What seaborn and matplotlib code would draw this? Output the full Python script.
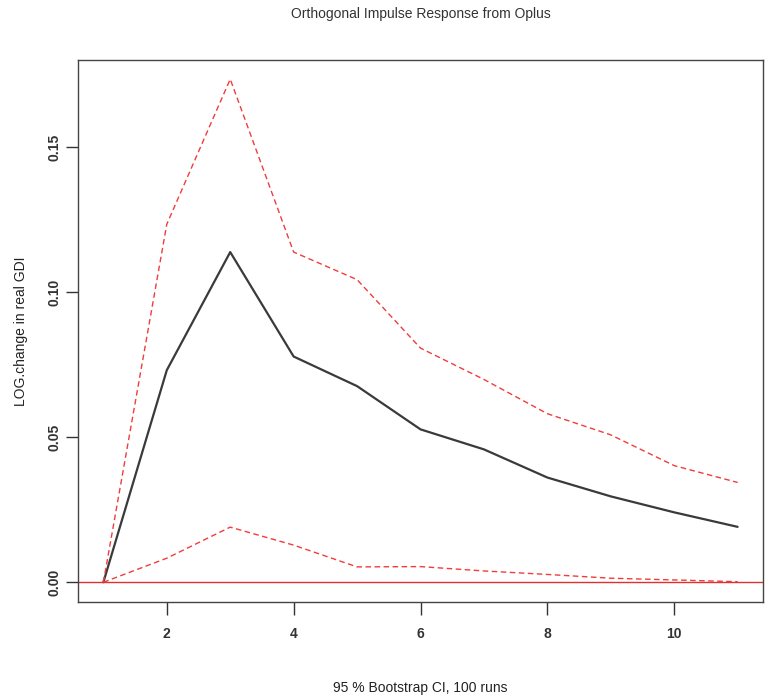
import numpy as np
import pandas as pd
import matplotlib
matplotlib.use("Agg")
import matplotlib.pyplot as plt
import seaborn as sns

# impulse response of real GDI to an Oplus shock, with 95% bootstrap bands
horizon = [1, 2, 3, 4, 5, 6, 7, 8, 9, 10, 11]
irf = [0.0, 0.0731, 0.1138, 0.0778, 0.0676, 0.0527, 0.0458, 0.0361, 0.0296, 0.0241, 0.0191]
upper = [0.0, 0.1234, 0.1734, 0.1138, 0.1043, 0.0807, 0.0699, 0.0581, 0.0508, 0.0402, 0.0344]
lower = [0.0, 0.0083, 0.0190, 0.0128, 0.0053, 0.0054, 0.0039, 0.0027, 0.0014, 0.0008, 0.0002]

df = pd.DataFrame({"horizon": horizon, "irf": irf, "upper": upper, "lower": lower})

sns.set_style("ticks")
plt.rcParams['font.family'] = ['Liberation Sans', 'DejaVu Sans']

fig = plt.figure(figsize=(7.65, 6.98), dpi=100)
ax = fig.add_axes([78 / 765, 96 / 698, 685 / 765, 542 / 698])

sns.lineplot(data=df, x="horizon", y="irf", color="#3a3a3a", linewidth=1.6, ax=ax)
sns.lineplot(data=df, x="horizon", y="upper", color="#f03c3c", linewidth=1.0,
             linestyle=(0, (4, 2.5)), ax=ax)
sns.lineplot(data=df, x="horizon", y="lower", color="#f03c3c", linewidth=1.0,
             linestyle=(0, (4, 2.5)), ax=ax)
ax.axhline(0, color="#e03030", linewidth=1.0)

ax.set_xlim(0.6, 11.4)
ax.set_ylim(-0.0068, 0.18)
ax.set_xticks([2, 4, 6, 8, 10])
ax.set_yticks([0.0, 0.05, 0.10, 0.15])
ax.set_yticklabels(["0.00", "0.05", "0.10", "0.15"], rotation=90, va="center")
ax.tick_params(axis="both", direction="out", length=9, width=1, labelsize=10, colors="#333333")
ax.tick_params(axis="y", pad=3)
ax.tick_params(axis="x", pad=9)
for lab in ax.get_xticklabels() + ax.get_yticklabels():
    lab.set_fontweight("bold")
for s in ax.spines.values():
    s.set_color("#444444")
    s.set_linewidth(1.0)

ax.set_xlabel("")
ax.set_ylabel("LOG.change in real GDI", fontsize=10, color="#222222", labelpad=14)
fig.text(0.5 * (78 + 763) / 765, 1 - 14 / 698, "Orthogonal Impulse Response from Oplus",
         ha="center", va="center", fontsize=10, color="#333333")
fig.text(0.5 * (78 + 763) / 765, 1 - 688 / 698, "95 % Bootstrap CI, 100 runs",
         ha="center", va="center", fontsize=10, color="#222222")

fig.savefig("out.png", dpi=100)
